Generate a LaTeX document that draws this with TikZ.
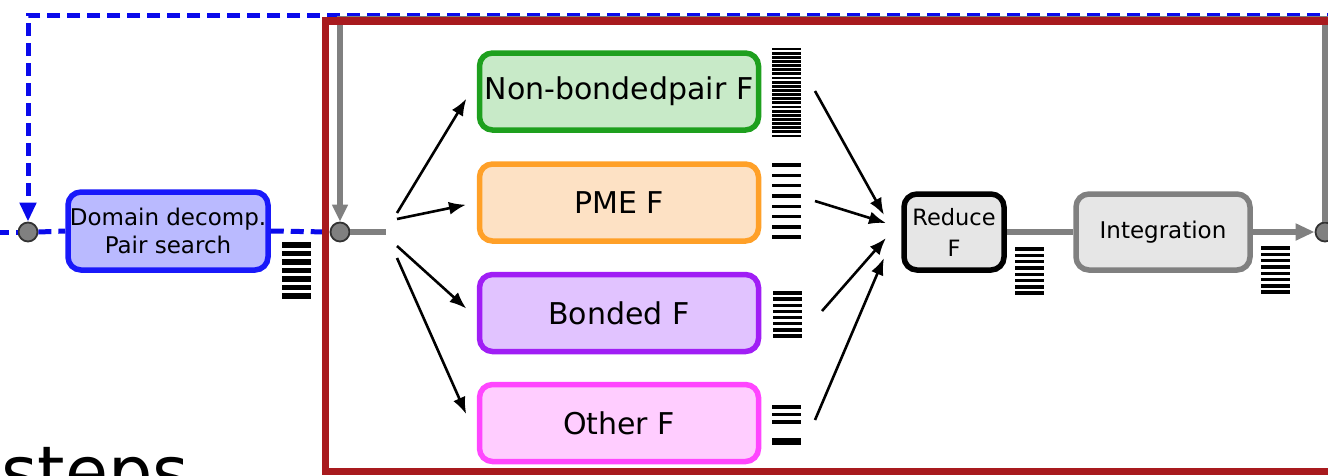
\documentclass[tikz,border=0pt]{standalone}
\usepackage{fontspec}
\setmainfont{DejaVu Sans}
\usetikzlibrary{arrows.meta}
\definecolor{loopblue}{RGB}{10,10,235}
\definecolor{domline}{RGB}{25,25,250}
\definecolor{domfill}{RGB}{186,186,255}
\definecolor{nbline}{RGB}{30,160,30}
\definecolor{nbfill}{RGB}{200,234,200}
\definecolor{pmeline}{RGB}{255,160,40}
\definecolor{pmefill}{RGB}{253,225,196}
\definecolor{bonline}{RGB}{160,30,245}
\definecolor{bonfill}{RGB}{225,195,255}
\definecolor{othline}{RGB}{255,70,255}
\definecolor{othfill}{RGB}{255,205,255}
\definecolor{boxgray}{RGB}{230,230,230}
\definecolor{linegray}{RGB}{128,128,128}
\definecolor{frame}{RGB}{168,26,30}
% stack of work bars: x, y of first bar, count, pitch, thickness
\newcommand{\barstack}[5]{%
  \foreach \k in {1,...,#3}{%
    \draw[line width=#5] (#1,{#2+(\k-1)*#4}) -- ++(29,0);
  }%
}

\begin{document}
\begin{tikzpicture}[x=1pt,y=-1pt,>=Latex,
  box/.style={draw,rounded corners=13pt,line width=5.5pt,align=center,inner sep=0pt},
  fbox/.style={box,minimum width=279pt,minimum height=77pt,font=\fontsize{30}{34}\selectfont},
  sbox/.style={box,font=\fontsize{23}{29}\selectfont},
  dot/.style={circle,draw=black!80,fill=linegray,line width=1.8pt,minimum size=19pt,inner sep=0pt},
  gline/.style={draw=linegray,line width=5.5pt},
  bline/.style={draw=loopblue,line width=5pt,dash pattern=on 13pt off 7pt},
  farrow/.style={-{Latex[length=17pt,width=13pt]},line width=2.6pt}]
  \useasboundingbox (0,0) rectangle (1328,475);
  \clip (0,0) rectangle (1328,475);

  % nodes
  \node[dot] (circL) at (28,232) {};
  \node[sbox,draw=domline,fill=domfill,minimum width=200pt,minimum height=78pt,
        font=\fontsize{23}{28}\selectfont] (dom) at (168,231) {Domain decomp.\\Pair search};
  \node[dot] (circM) at (340,232) {};
  \node[fbox,draw=nbline,fill=nbfill] (nb) at (619,91.5) {Non-bondedpair F};
  \node[fbox,draw=pmeline,fill=pmefill] (pme) at (619,202.5) {PME F};
  \node[fbox,draw=bonline,fill=bonfill] (bon) at (619,313) {Bonded F};
  \node[fbox,draw=othline,fill=othfill] (oth) at (619,423) {Other F};
  \node[sbox,draw=black,fill=boxgray,minimum width=100pt,minimum height=76pt,
        font=\fontsize{22.5}{31}\selectfont] (red) at (954,232) {Reduce\\F};
  \node[sbox,draw=linegray,fill=boxgray,minimum width=174pt,minimum height=76pt] (integ) at (1163,232) {Integration};
  \node[dot] (circR) at (1325,232) {};
  \node[font=\fontsize{70}{80}\selectfont,anchor=base west,inner sep=0pt] (steps) at (1,496) {steps};

  % blue dashed loop
  \coordinate (bstart) at (1340,15);
  \coordinate (bin) at (-4,232);
  \draw[bline,-{Triangle[length=19pt,width=16pt]}] (bstart) -| (circL.north);
  \draw[bline] (bin) -- (circL.west);
  \draw[bline] (circL.east) -- (dom.west);
  \draw[bline] (dom.east) -- (circM.west);

  % gray loop over the step
  \draw[gline,-{Triangle[length=17pt,width=15pt]}] (circR.north) -- ++(0,-203) -| (circM.north);
  \coordinate (fork) at (386,232);
  \draw[gline] (circM.east) -- (fork);
  \draw[gline] (red.east) -- (integ.west);
  \draw[gline,-{Triangle[length=19pt,width=16pt]}] (integ.east) -- (circR.west);

  % fork to the force tasks
  \coordinate (f1) at (397,213);
  \coordinate (f2) at (397,219);
  \coordinate (f3) at (397,246);
  \coordinate (f4) at (397,258);
  \draw[farrow,shorten >=20pt] (f1) -- (nb.176.5);
  \draw[farrow,shorten >=11pt] (f2) -- (pme.180.6);
  \draw[farrow,shorten >=14pt] (f3) -- (bon.182.7);
  \draw[farrow,shorten >=26pt] (f4) -- (oth.186.8);

  % join into the reduction
  \coordinate (g1) at (815,91);
  \coordinate (g2) at (815,201);
  \coordinate (g3) at (822,311);
  \coordinate (g4) at (815,420);
  \coordinate (in1) at (884,215);
  \coordinate (in2) at (886,223);
  \coordinate (in3) at (886,238);
  \coordinate (in4) at (884,258);
  \draw[farrow] (g1) -- (in1);
  \draw[farrow] (g2) -- (in2);
  \draw[farrow] (g3) -- (in3);
  \draw[farrow] (g4) -- (in4);

  % work bars
  \barstack{282}{245}{7}{8.5}{5.2pt}
  \barstack{772}{49}{22}{4.14}{2.8pt}
  \barstack{772}{165}{8}{10.3}{3.4pt}
  \barstack{773}{293}{8}{6.15}{3.4pt}
  \barstack{772}{407}{3}{7.5}{3.4pt}
  \draw[line width=7.5pt] (772,441.5) -- ++(29,0);
  \barstack{1015}{249}{8}{6.3}{3.4pt}
  \barstack{1261}{248}{8}{6.3}{3.4pt}

  % frame of the step
  \draw[frame,line width=7.5pt] (325.5,21) rectangle (1400,471.5);
\end{tikzpicture}
\end{document}
